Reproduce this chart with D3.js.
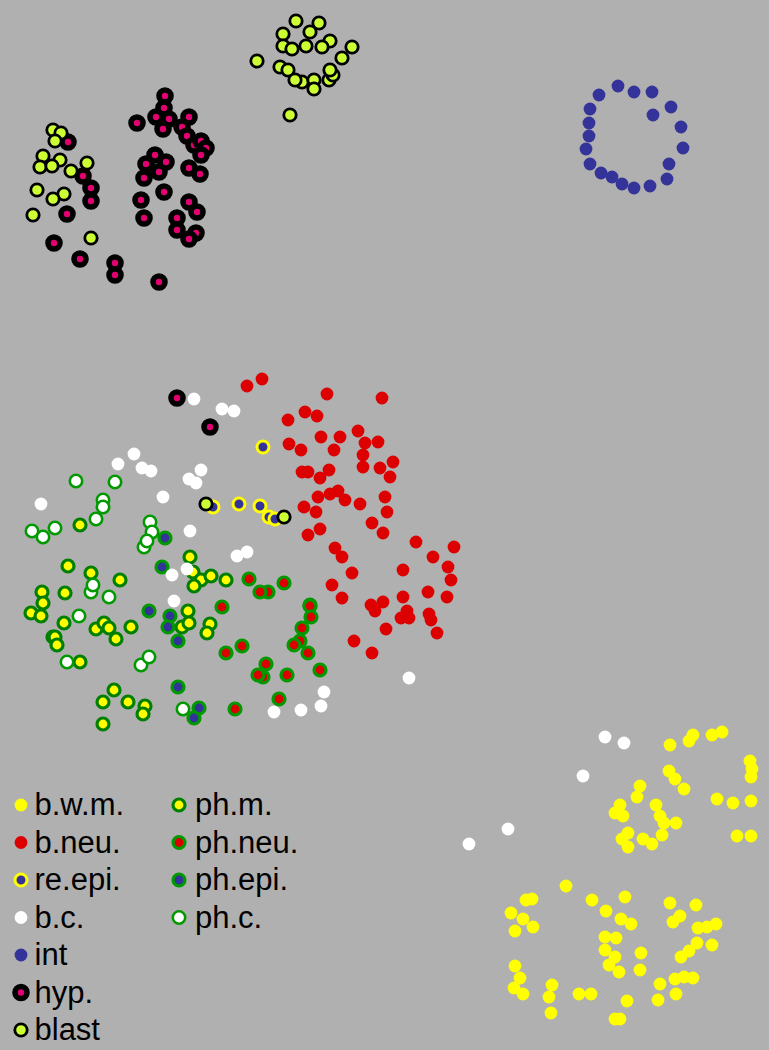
<!DOCTYPE html>
<html>
<head>
<meta charset="utf-8">
<script src="https://d3js.org/d3.v7.min.js"></script>
<style>
html, body { margin: 0; padding: 0; background: #b0b0b0; }
svg { display: block; }
</style>
</head>
<body>
<div id="chart-area"></div>
<script>
// Embedding coordinates
var phM = [[80,525],[68,566],[91,573],[120,580],[65,593],[42,592],[43,603],[31,613],[41,616],[64,623],[96,629],[104,623],[109,628],[116,639],[131,627],[53,637],[55,637],[57,645],[80,662],[114,690],[103,702],[128,702],[145,706],[143,714],[103,724],[190,557],[193,572],[201,580],[211,576],[226,580],[194,586],[188,611],[182,627],[189,623],[210,624],[207,633]];
var phNeu = [[249,579],[268,592],[260,592],[284,583],[222,607],[310,605],[310,606],[311,617],[302,628],[300,641],[294,645],[308,653],[242,646],[226,653],[266,664],[263,677],[258,675],[287,675],[320,670],[279,699],[235,709]];
var phEpi = [[165,538],[162,567],[149,611],[170,616],[168,627],[178,641],[178,687],[199,708],[194,718]];
var phC = [[76,481],[115,482],[103,500],[103,507],[96,519],[55,528],[32,531],[43,537],[150,522],[152,532],[144,547],[147,541],[91,592],[93,585],[109,597],[79,616],[67,662],[141,665],[149,657],[183,709]];
var bWm = [[670,745],[689,741],[693,735],[712,735],[722,732],[750,761],[752,769],[751,777],[669,771],[675,779],[684,789],[640,786],[637,797],[717,799],[733,803],[751,801],[620,805],[615,813],[623,816],[656,805],[660,816],[664,823],[676,823],[662,835],[628,833],[622,839],[628,847],[643,839],[652,844],[737,836],[751,836],
  [566,886],[526,900],[532,899],[511,913],[523,919],[533,927],[515,931],[592,900],[625,897],[606,911],[621,919],[631,924],[605,937],[616,938],[605,950],[615,957],[609,965],[619,972],[641,953],[640,970],[670,903],[696,905],[680,916],[673,922],[698,928],[707,927],[716,924],[697,943],[712,945],[689,951],[681,957],[515,966],[520,978],[514,988],[523,994],[552,985],[549,997],[551,1013],[579,994],[591,994],[627,1001],[658,1000],[660,984],[676,994],[675,979],[684,977],[693,978],[615,1019],[620,1019]];
var bNeu = [[247,386],[262,379],[327,394],[382,398],[288,420],[305,412],[317,416],[358,431],[321,437],[340,437],[365,443],[378,442],[289,444],[301,450],[334,450],[363,455],[393,462],[363,467],[380,468],[390,477],[302,472],[308,472],[329,470],[320,478],[318,497],[330,494],[338,491],[345,500],[360,504],[385,497],[387,512],[304,507],[316,512],[372,523],[320,529],[383,533],[308,535],[335,548],[342,557],[416,542],[454,547],[433,557],[448,567],[352,573],[403,570],[451,580],[332,585],[428,592],[403,597],[447,597],[342,598],[383,602],[371,605],[375,611],[407,611],[401,618],[409,618],[429,614],[431,620],[437,633],[386,629],[354,641],[372,653]];
var reEpi = [[263,447],[239,504],[260,506],[213,507],[269,517],[275,519]];
var bC = [[194,399],[222,409],[234,411],[201,470],[189,479],[196,483],[190,531],[247,552],[237,556],[187,569],[172,575],[174,601],[409,678],[324,692],[321,706],[301,710],[274,712],[118,464],[134,454],[142,468],[151,471],[41,504],[163,497],[605,737],[624,743],[583,776],[508,829],[469,844]];
var intr = [[618,86],[599,95],[634,92],[652,92],[671,107],[653,115],[590,109],[589,123],[681,127],[589,136],[586,149],[683,148],[590,164],[669,164],[601,173],[667,179],[612,177],[622,184],[634,188],[650,186]];
var hyp = [[68,142],[83,176],[91,188],[91,201],[67,214],[54,243],[80,259],[115,263],[115,275],[159,282],[165,96],[164,108],[156,117],[169,119],[163,129],[137,123],[189,117],[182,127],[187,136],[194,145],[201,141],[206,148],[201,155],[155,155],[146,164],[166,162],[159,172],[144,178],[189,168],[200,174],[164,192],[141,200],[144,218],[189,202],[197,212],[177,218],[177,230],[196,233],[189,239],[177,398],[210,427]];
var blast = [[296,21],[319,23],[283,34],[310,32],[283,46],[292,49],[306,46],[330,41],[322,47],[352,47],[342,58],[257,61],[280,67],[288,70],[302,82],[295,80],[314,80],[314,89],[329,80],[333,75],[330,70],[290,115],
  [53,130],[61,133],[55,141],[43,156],[60,160],[40,167],[52,166],[71,171],[87,163],[37,190],[64,194],[53,199],[33,215],[91,238],[206,504],[284,517]];

var legendCol1 = ["b.w.m.", "b.neu.", "re.epi.", "b.c.", "int", "hyp.", "blast"];
var legendCol2 = ["ph.m.", "ph.neu.", "ph.epi.", "ph.c."];

// fill, ring colour, radius and ring width for every class
var styles = {
	"b.w.m.":  { data: bWm,   fill: "#ffff00", stroke: "none",    r: 6.4, sw: 0 },
	"b.neu.":  { data: bNeu,  fill: "#dd0000", stroke: "none",    r: 6.4, sw: 0 },
	"re.epi.": { data: reEpi, fill: "#333399", stroke: "#ffff00", r: 6,   sw: 3 },
	"b.c.":    { data: bC,    fill: "#ffffff", stroke: "none",    r: 6.4, sw: 0 },
	"int":     { data: intr,  fill: "#333399", stroke: "none",    r: 6.4, sw: 0 },
	"hyp.":    { data: hyp,   fill: "#e0006f", stroke: "#000000", r: 6,   sw: 5.6 },
	"blast":   { data: blast, fill: "#ccff33", stroke: "#000000", r: 6.2, sw: 2.8 },
	"ph.m.":   { data: phM,   fill: "#ffff00", stroke: "#007f00", r: 6,   sw: 3.2 },
	"ph.neu.": { data: phNeu, fill: "#dd0000", stroke: "#009900", r: 6,   sw: 3.2 },
	"ph.epi.": { data: phEpi, fill: "#333399", stroke: "#009900", r: 6,   sw: 3.2 },
	"ph.c.":   { data: phC,   fill: "#ffffff", stroke: "#009900", r: 6.2, sw: 2.6 }
};

// the ph classes sit under everything else
var drawOrder = legendCol2.concat(legendCol1);

var width = 769, height = 1050;

var xScale = d3.scaleLinear().domain([0, 769]).range([0, width]);
var yScale = d3.scaleLinear().domain([0, 1050]).range([0, height]);

var svg = d3.select("#chart-area")
	.append("svg")
	.attr("width", width)
	.attr("height", height)
	.style("background", "#b0b0b0");

function applyStyle(sel, s) {
	sel.attr("r", s.r)
		.attr("fill", s.fill)
		.attr("stroke", s.stroke)
		.attr("stroke-width", s.sw);
}

drawOrder.forEach(name => {
	var s = styles[name];
	svg.append("g").attr("class", "points")
		.selectAll("circle")
		.data(s.data)
		.enter()
		.append("circle")
		.attr("cx", d => xScale(d[0]))
		.attr("cy", d => yScale(d[1]))
		.call(applyStyle, s);
});

// Legend
var legendY = d3.scalePoint().domain(d3.range(7)).range([805, 1030]);

function legendColumn(labels, x, textX) {
	labels.forEach((label, i) => {
		var row = svg.append("g")
			.attr("transform", "translate(" + x + "," + legendY(i) + ")");
		row.append("circle").call(applyStyle, styles[label]);
		row.append("text")
			.attr("x", textX)
			.attr("y", 10)
			.attr("font-family", "'Liberation Sans', Arial, sans-serif")
			.attr("font-size", "31px")
			.attr("fill", "#000")
			.text(label);
	});
}

legendColumn(legendCol1, 21, 13.5);
legendColumn(legendCol2, 179, 16);
</script>
</body>
</html>
